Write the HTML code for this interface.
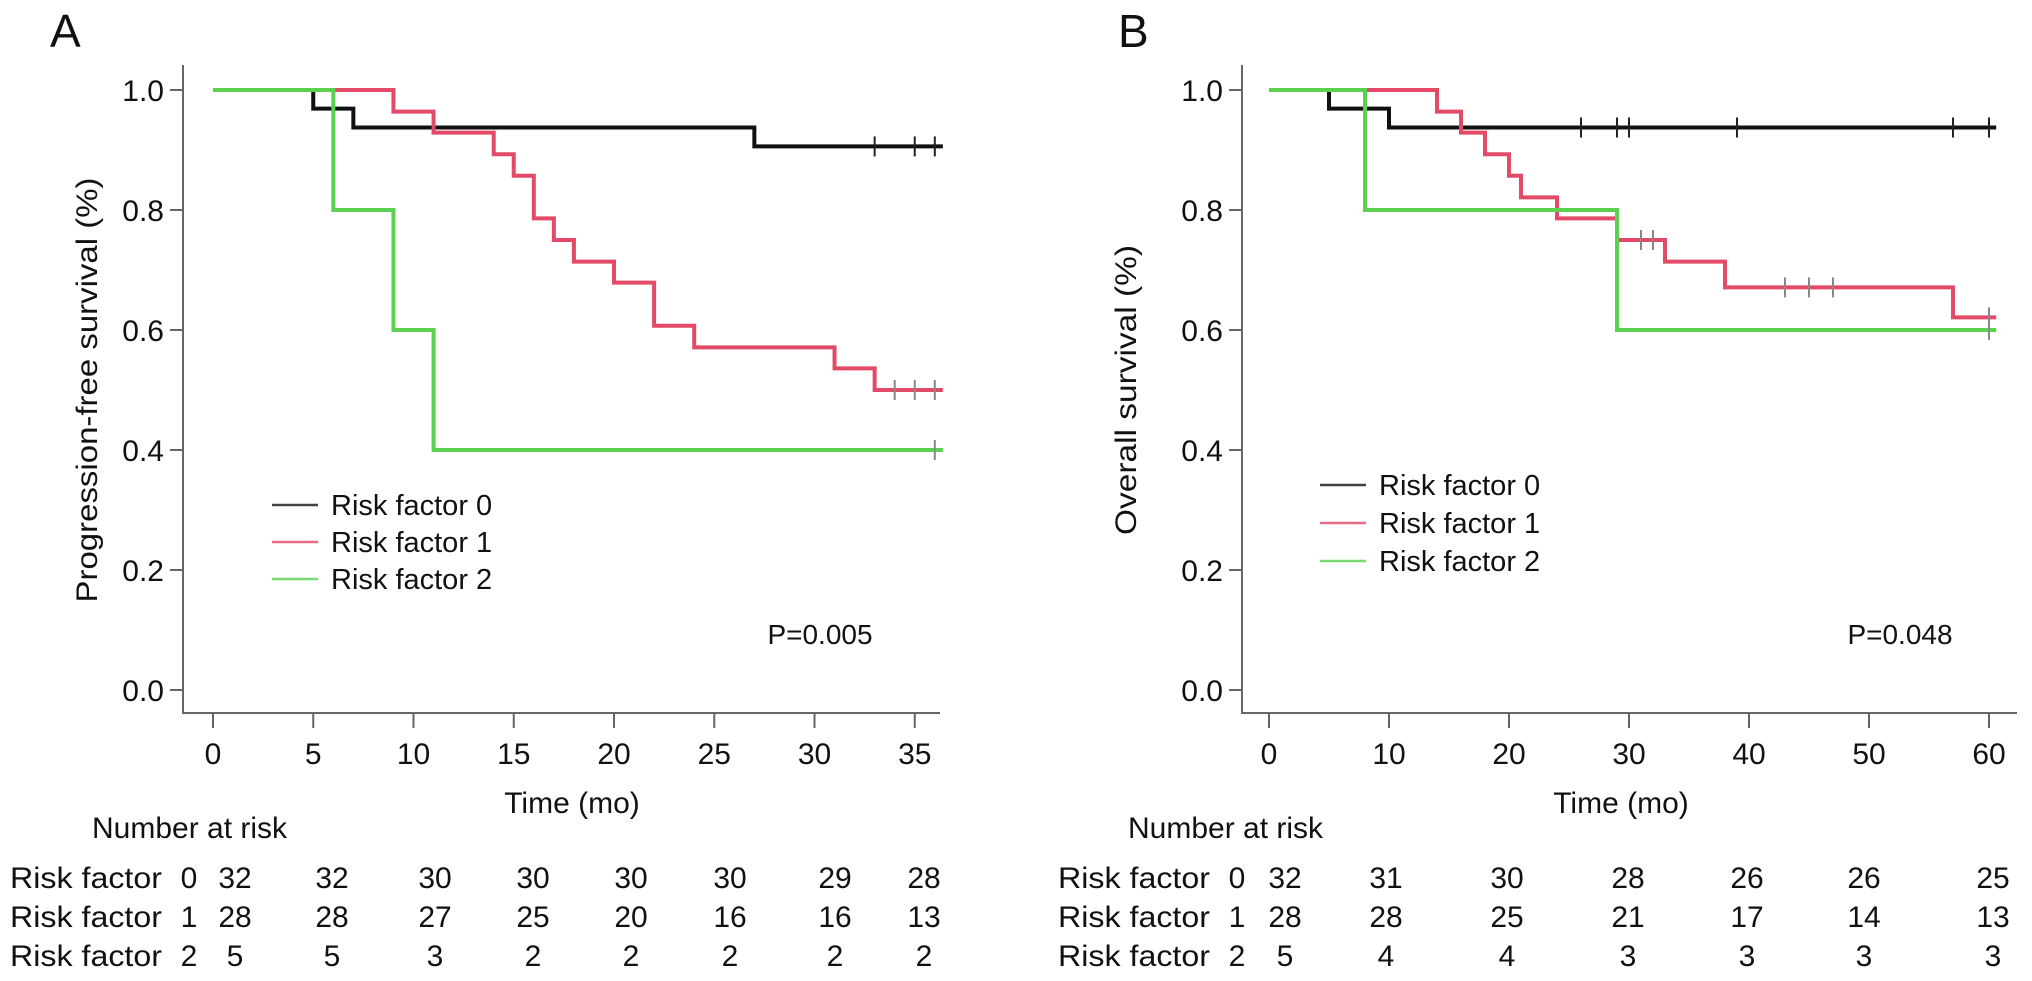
<!DOCTYPE html>
<html><head><meta charset="utf-8"><style>
html,body{margin:0;padding:0;background:#fff;}
svg{display:block;font-family:"Liberation Sans",Arial,sans-serif;}
</style></head><body>
<svg id="fig" width="2032" height="981" viewBox="0 0 2032 981"></svg>
<script>
// ---- Panel A data (Progression-free survival) ----
const aTicksX = [0,5,10,15,20,25,30,35];
const aRF0Times = [0,5,7,27,36.4];
const aRF0Surv  = [1.0,0.969,0.9375,0.906,0.906];
const aRF0Cens  = [33,35,36];
const aRF1Times = [0,9,11,14,15,16,17,18,20,22,24,31,33,36.4];
const aRF1Surv  = [1.0,0.964,0.929,0.893,0.857,0.786,0.75,0.714,0.679,0.607,0.571,0.536,0.5,0.5];
const aRF1Cens  = [34,35,36];
const aRF2Times = [0,6,9,11,36.4];
const aRF2Surv  = [1.0,0.8,0.6,0.4,0.4];
const aRF2Cens  = [36];
const aRisk0 = ["32","32","30","30","30","30","29","28"];
const aRisk1 = ["28","28","27","25","20","16","16","13"];
const aRisk2 = ["5","5","3","2","2","2","2","2"];
// ---- Panel B data (Overall survival) ----
const bTicksX = [0,10,20,30,40,50,60];
const bRF0Times = [0,5,10,60.6];
const bRF0Surv  = [1.0,0.969,0.9375,0.9375];
const bRF0Cens  = [26,29,30,39,57,60];
const bRF1Times = [0,14,16,18,20,21,24,29,33,38,57,60.6];
const bRF1Surv  = [1.0,0.964,0.929,0.893,0.857,0.821,0.786,0.75,0.714,0.671,0.621,0.621];
const bRF1Cens  = [31,32,43,45,47,60];
const bRF2Times = [0,8,29,60.6];
const bRF2Surv  = [1.0,0.8,0.6,0.6];
const bRF2Cens  = [60];
const bRisk0 = ["32","31","30","28","26","26","25"];
const bRisk1 = ["28","28","25","21","17","14","13"];
const bRisk2 = ["5","4","4","3","3","3","3"];
const yTicks = [0.0,0.2,0.4,0.6,0.8,1.0];
const yTickLabels = ["0.0","0.2","0.4","0.6","0.8","1.0"];

const NS="http://www.w3.org/2000/svg";
const svg=document.getElementById('fig');
const COL=["#111111","#e24a68","#5ad14f"];
function mk(tag,attrs,parent){const e=document.createElementNS(NS,tag);for(const k in attrs)e.setAttribute(k,attrs[k]);(parent||svg).appendChild(e);return e;}
function txt(s,x,y,attrs,parent){const e=mk('text',Object.assign({x:x,y:y,'font-size':30,fill:'#111'},attrs||{}),parent);e.textContent=s;return e;}
const yS=v=>690-600*v;

function panel(cfg){
  const g=mk('g',{});
  
  
  const xS=t=>cfg.x0+cfg.ppu*t;
  const ax=mk('path',{d:`M${cfg.ax},65 L${cfg.ax},713 L${cfg.axEnd},713`,stroke:'#666',fill:'none','stroke-width':2},g);
  
  
  yTicks.forEach((v,i)=>{
    const t=mk('line',{x1:cfg.ax-13,x2:cfg.ax,y1:yS(v),y2:yS(v),stroke:'#666','stroke-width':2},g);
    
    
    const l=txt(yTickLabels[i],cfg.ax-19,yS(v)+11,{'text-anchor':'end'},g);
    
    
  });
  cfg.ticks.forEach(tv=>{
    const t=mk('line',{x1:xS(tv),x2:xS(tv),y1:713,y2:728,stroke:'#666','stroke-width':2},g);
    
    
    const l=txt(String(tv),xS(tv),764,{'text-anchor':'middle'},g);
    
    
  });
  const xt=txt('Time (mo)',cfg.xTitleX,813,{'text-anchor':'middle'},g);
  
  
  const yt=txt(cfg.yTitle,0,0,{'text-anchor':'middle',transform:`translate(${cfg.yTitleX},390) rotate(-90)`,textLength:cfg.yTitleLen,lengthAdjust:'spacingAndGlyphs'},g);
  
  
  const pl=txt(cfg.letter,cfg.letterX,47,{'font-size':46},g);
  
  
  cfg.series.forEach((s,k)=>{
    let d=`M${xS(s.t[0])},${yS(s.s[0])}`;
    for(let i=1;i<s.t.length;i++){d+=` H${xS(s.t[i])} V${yS(s.s[i])}`;}
    const p=mk('path',{d:d,stroke:COL[k],fill:'none','stroke-width':4,'stroke-linejoin':'miter'},g);
    
    
    s.c.forEach(ct=>{
      let v=s.s[0];
      for(let i=0;i<s.t.length;i++){if(s.t[i]<=ct)v=s.s[i];}
      const m=mk('line',{x1:xS(ct),x2:xS(ct),y1:yS(v)-10,y2:yS(v)+10,stroke:k===0?'#222':'#888','stroke-width':2},g);
      
      
    });
  });
  ['Risk factor 0','Risk factor 1','Risk factor 2'].forEach((lab,k)=>{
    const y=cfg.legY[k];
    const ln=mk('line',{x1:cfg.legX,x2:cfg.legX+46,y1:y,y2:y,stroke:COL[k],'stroke-width':2.5,opacity:0.8},g);
    
    
    const t=txt(lab,cfg.legX+59,y+10,{'font-size':29},g);
    
    
  });
  const pv=txt(cfg.p,cfg.pX,644,{'text-anchor':'middle','font-size':28},g);
  
  
  const nh=txt('Number at risk',cfg.nrX,838,{},g);
  
  
  [cfg.r0,cfg.r1,cfg.r2].forEach((row,k)=>{
    const y=[888,927,966][k];
    const l=txt('Risk factor',cfg.rlX,y,{textLength:152,lengthAdjust:'spacingAndGlyphs'},g);
    
    
    const dg=txt(String(k),cfg.rlX+179,y,{'text-anchor':'middle'},g);
    
    
    row.forEach((n,i)=>{
      const c=txt(n,cfg.colX[i],y,{'text-anchor':'middle'},g);
      
      
    });
  });
}

panel({name:'panel-a',letter:'A',letterX:50,x0:213,ppu:20.05,ax:183,axEnd:940,ticks:aTicksX,
  xTitleX:572,yTitle:'Progression-free survival (%)',yTitleX:97,yTitleLen:425,
  series:[{t:aRF0Times,s:aRF0Surv,c:aRF0Cens},{t:aRF1Times,s:aRF1Surv,c:aRF1Cens},{t:aRF2Times,s:aRF2Surv,c:aRF2Cens}],
  legX:272,legY:[505,542,579],p:'P=0.005',pX:820,nrX:92,rlX:10,
  colX:[235,332,435,533,631,730,835,924],r0:aRisk0,r1:aRisk1,r2:aRisk2});
panel({name:'panel-b',letter:'B',letterX:1118,x0:1269,ppu:12,ax:1242,axEnd:2017,ticks:bTicksX,
  xTitleX:1621,yTitle:'Overall survival (%)',yTitleX:1136,yTitleLen:290,
  series:[{t:bRF0Times,s:bRF0Surv,c:bRF0Cens},{t:bRF1Times,s:bRF1Surv,c:bRF1Cens},{t:bRF2Times,s:bRF2Surv,c:bRF2Cens}],
  legX:1320,legY:[485,523,561],p:'P=0.048',pX:1900,nrX:1128,rlX:1058,
  colX:[1285,1386,1507,1628,1747,1864,1993],r0:bRisk0,r1:bRisk1,r2:bRisk2});
</script>
</body></html>
